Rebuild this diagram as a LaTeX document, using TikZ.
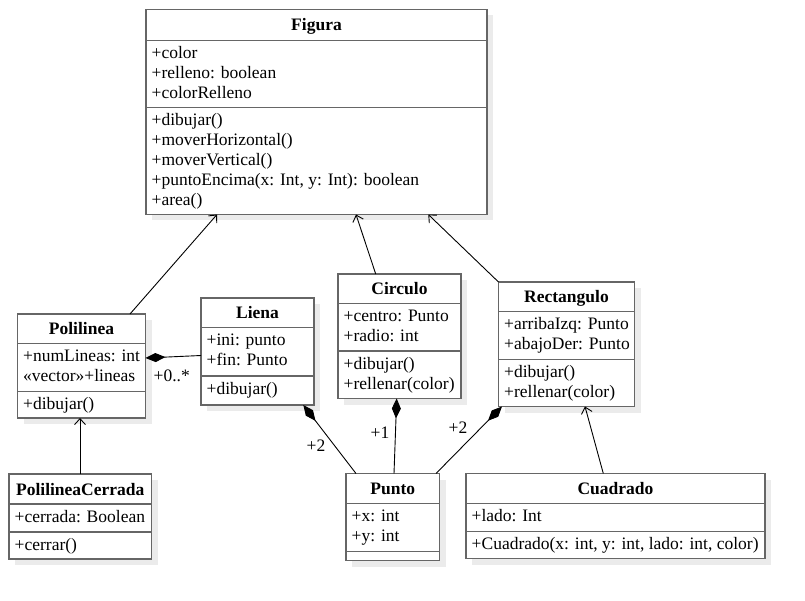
\documentclass[tikz,border=0pt]{standalone}
\usepackage{fontspec}
\setmainfont{Liberation Serif}
\usetikzlibrary{arrows.meta,calc}
\definecolor{boxgray}{HTML}{666666}
\definecolor{shadowc}{HTML}{EBEBEB}
\tikzset{
 classbox/.style={draw=boxgray, line width=1.4pt, fill=white, rectangle, inner sep=0pt, outer sep=0pt},
 sepline/.style={draw=boxgray, line width=1.4pt},
 titletext/.style={font=\fontsize{17.5}{20}\selectfont\bfseries, inner sep=0pt},
 linetext/.style={font=\fontsize{17.5}{20}\selectfont, inner sep=0pt},
 gen/.style={draw=black, line width=0.9pt, -{Straight Barb[length=6pt,width=11pt]}},
 comp/.style={draw=black, line width=0.9pt, {Diamond[length=20pt,width=9pt]}-},
 mult/.style={font=\fontsize{17.5}{20}\selectfont, inner sep=0pt, anchor=base west},
}
% name, L, T, R, B, S1, S2, title
\newcommand\umlbox[8]{%
 \fill[shadowc] (#2+6,#3+6) rectangle (#4+6,#5+6);
 \node[classbox, anchor=north west, minimum width={#4-#2}, minimum height={#5-#3}] (#1) at (#2,#3) {};
 \draw[sepline] (#2,#6) -- (#4,#6);
 \draw[sepline] (#2,#7) -- (#4,#7);
 \node[titletext, anchor=base] (#1-t) at ({(#2+#4)/2},{(#3+#6)/2+6}) {#8};
}
% name prefix, x, first baseline, list
\newcommand\umllines[4]{%
 \foreach \s [count=\i] in {#4} {\node[linetext, anchor=base west] (#1\i) at (#2, #3+20*\i-20) {\s};}
}
\begin{document}
\begin{tikzpicture}[x=1pt,y=-1pt]
\useasboundingbox[fill=white] (0,0) rectangle (805,601);

% Figura
\umlbox{figura}{146}{9.5}{487}{214.5}{40.5}{107.5}{Figura}
\umllines{figa}{151.5}{59}{+color,+relleno: boolean,+colorRelleno}
\umllines{figm}{151.5}{126}{+dibujar(),+moverHorizontal(),+moverVertical(),{+puntoEncima(x: Int, y: Int): boolean},+area()}

% Polilinea
\umlbox{polilinea}{17.5}{314}{145.5}{418}{343.5}{391.5}{Polilinea}
\umllines{pola}{23}{361.8}{+numLineas: int,«vector»+lineas}
\umllines{polm}{23}{409.8}{+dibujar()}

% Liena
\umlbox{liena}{201}{298}{314}{405}{327.5}{376}{Liena}
\umllines{liea}{206.5}{345.8}{+ini: punto,+fin: Punto}
\umllines{liem}{206.5}{394.3}{+dibujar()}

% Circulo
\umlbox{circulo}{338}{274}{461}{398.5}{303.5}{351}{Circulo}
\umllines{cira}{343.5}{321.8}{+centro: Punto,+radio: int}
\umllines{cirm}{343.5}{369.3}{+dibujar(),+rellenar(color)}

% Rectangulo
\umlbox{rectangulo}{498.5}{282}{634.5}{406.5}{311.5}{359.5}{Rectangulo}
\umllines{reca}{504}{329.8}{+arribaIzq: Punto,+abajoDer: Punto}
\umllines{recm}{504}{377.8}{+dibujar(),+rellenar(color)}

% PolilineaCerrada
\umlbox{polcerrada}{9}{474}{151.5}{559}{504}{532}{PolilineaCerrada}
\umllines{pcea}{14.5}{522.3}{+cerrada: Boolean}
\umllines{pcem}{14.5}{550.3}{+cerrar()}

% Punto
\umlbox{punto}{346}{473.5}{439.5}{560.5}{503.5}{551.5}{Punto}
\umllines{puna}{351.5}{521.8}{+x: int,+y: int}

% Cuadrado
\umlbox{cuadrado}{466}{473.5}{765}{558.5}{503.5}{531.5}{Cuadrado}
\umllines{cuaa}{471.5}{521.8}{+lado: Int}
\umllines{cuam}{471.5}{549.8}{{+Cuadrado(x: int, y: int, lado: int, color)}}

% generalizations
\draw[gen] ([xshift=112.5]polilinea.north west) -- ([xshift=71]figura.south west);
\draw[gen] ([xshift=37.7]circulo.north west) -- ([xshift=210]figura.south west);
\draw[gen] (rectangulo.north west) -- ([xshift=282.3]figura.south west);
\draw[gen] ([xshift=71]polcerrada.north west) -- ([xshift=62.5]polilinea.south west);
\draw[gen] ([xshift=137.3]cuadrado.north west) -- ([xshift=86.5]rectangulo.south west);

% compositions
\draw[comp] ([yshift=-44]polilinea.north east) -- ([yshift=-57.5]liena.north west);
\draw[comp] ([xshift=102.3]liena.south west) -- ([xshift=10]punto.north west);
\draw[comp] ([xshift=58.7]circulo.south west) -- ([xshift=48]punto.north west);
\draw[comp] ([xshift=3.5]rectangulo.south west) -- ([xshift=90]punto.north west);

% multiplicities
\node[mult] (m1) at (153.5,381.7) {+0..*};
\node[mult] (m2) at (306.5,451) {+2};
\node[mult] (m3) at (370.5,438.3) {+1};
\node[mult] (m4) at (448.5,433.3) {+2};
\end{tikzpicture}
\end{document}
